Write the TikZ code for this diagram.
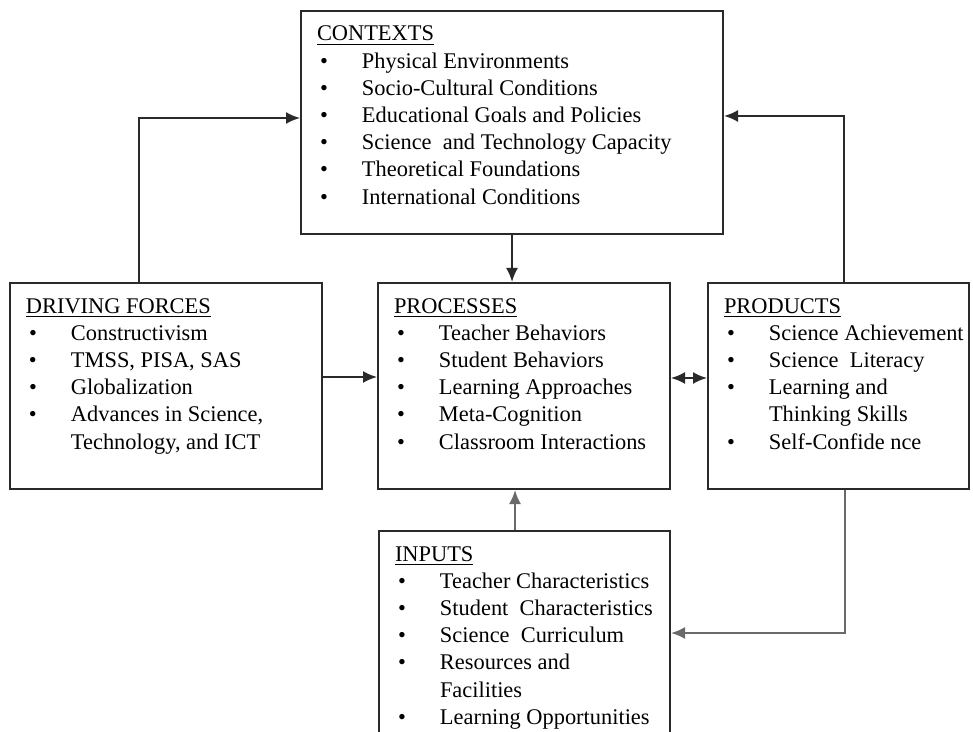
\documentclass[tikz,border=0pt]{standalone}
\usepackage{fontspec}
\setmainfont{Liberation Serif}
\usetikzlibrary{arrows.meta, positioning, calc}
\definecolor{boxline}{HTML}{2A2A2A}
\definecolor{paleline}{HTML}{6A6A6A}

\newcommand{\hd}[1]{\rule{0pt}{15pt}\hspace*{8pt}\underline{#1}}
\newcommand{\itm}[1]{\par\hspace*{9.5pt}\makebox[21pt][l]{\textbullet}#1}
\newcommand{\cnt}[1]{\par\hspace*{30.5pt}#1}
\newcommand{\blk}[3]{\parbox[c][#2][t]{#1}{#3}}

\begin{document}
\begin{tikzpicture}[x=0.5pt, y=-0.5pt, >={Latex[length=7pt,width=6pt]}, thick]
    \tikzset{
        panel/.style={draw=boxline, line width=1pt, inner sep=0pt, anchor=north west,
            font=\fontsize{11.2}{13.6}\selectfont},
        link/.style={->, draw=boxline, line width=1pt},
        palelink/.style={->, draw=paleline, line width=1pt}
    }
    \useasboundingbox (0,0) rectangle (973,732);
    \clip (0,0) rectangle (973,732);

    \node[panel] (contexts) at (300,10) {\blk{211pt}{111.5pt}{%
        \hd{CONTEXTS}
        \itm{Physical Environments}
        \itm{Socio-Cultural Conditions}
        \itm{Educational Goals and Policies}
        \itm{Science\ \ and Technology Capacity}
        \itm{Theoretical Foundations}
        \itm{International Conditions}}};
    \node[panel] (drive) at (9,282) {\blk{156pt}{103pt}{%
        \hd{DRIVING FORCES}
        \itm{Constructivism}
        \itm{TMSS, PISA, SAS}
        \itm{Globalization}
        \itm{Advances in Science,}
        \cnt{Technology, and ICT}}};
    \node[panel] (proc) at (377,282) {\blk{146pt}{103pt}{%
        \hd{PROCESSES}
        \itm{Teacher Behaviors}
        \itm{Student Behaviors}
        \itm{Learning Approaches}
        \itm{Meta-Cognition}
        \itm{Classroom Interactions}}};
    \node[panel] (prod) at (707,282) {\blk{130.5pt}{103pt}{%
        \hd{PRODUCTS}
        \itm{Science Achievement}
        \itm{Science\ \ Literacy}
        \itm{Learning and}
        \cnt{Thinking Skills}
        \itm{Self-Confide nce}}};
    \node[panel] (inputs) at (378,530) {\blk{145.5pt}{120pt}{%
        \hd{INPUTS}
        \itm{Teacher Characteristics}
        \itm{Student\ \ Characteristics}
        \itm{Science\ \ Curriculum}
        \itm{Resources and}
        \cnt{Facilities}
        \itm{Learning Opportunities}}};

    % connectors
    \draw[link] ([xshift=65pt]drive.north west) |- ([yshift=2.25pt]contexts.west);
    \draw[link] (contexts.south) -- (contexts.south |- proc.north);
    \draw[link] ([xshift=2.75pt]prod.north) |- ([yshift=3.25pt]contexts.east);
    \draw[link] ([yshift=4.5pt]drive.east) -- ([yshift=4.5pt]proc.west);
    \draw[link, <->] ([yshift=4pt]proc.east) -- ([yshift=4pt]prod.west);
    \draw[palelink] ([xshift=-4.75pt]inputs.north) -- ([xshift=-4.75pt]inputs.north |- proc.south);
    \draw[palelink] ([xshift=3.25pt]prod.south) |- ([yshift=9pt]inputs.east);
\end{tikzpicture}
\end{document}
